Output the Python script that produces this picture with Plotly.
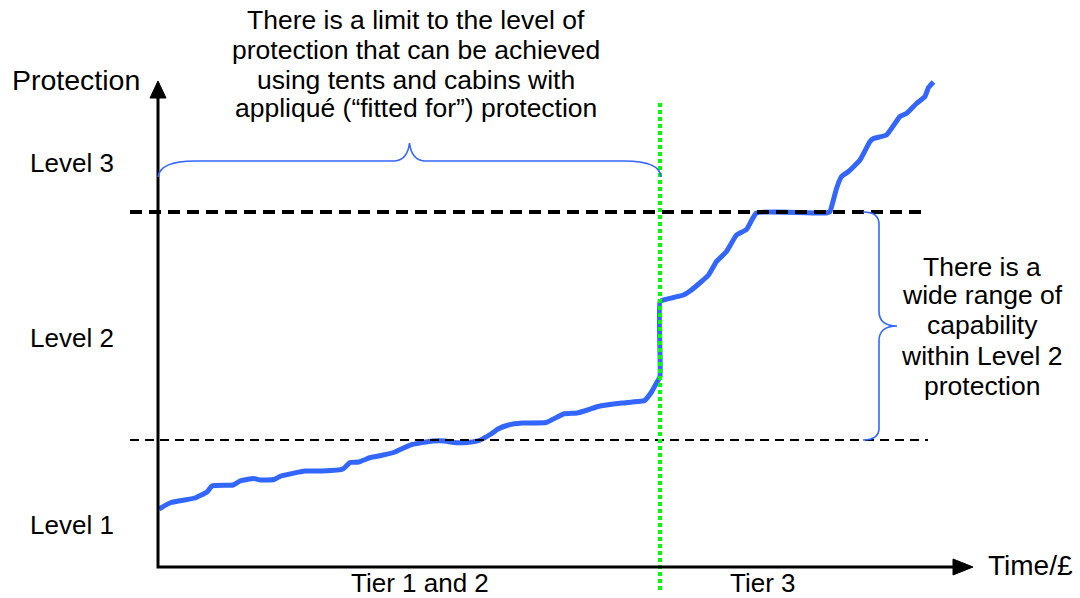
import plotly.graph_objects as go

# ---- data (x: time/cost units, y: protection units) ----
curve_x = [0.4, 2.8, 7.6, 10.0, 11.0, 15.2, 16.6, 19.3, 20.7, 23.4, 24.8, 29.6, 33.1, 37.2,
           38.6, 40.3, 42.7, 44.8, 47.6, 49.3, 51.0, 55.1, 57.6, 59.3, 62.0, 64.4, 66.8, 68.2,
           70.3, 73.0, 77.8, 81.3, 84.0, 86.1, 88.2, 93.0, 95.1, 97.5, 98.9, 99.9, 100.6,
           100.6, 101.6, 103.3, 105.3, 106.6, 108.9, 110.3, 111.9, 113.9, 115.9, 117.9, 119.9,
           133.9, 134.6, 135.9, 136.9, 138.3, 140.6, 142.6, 143.3, 145.9, 148.6, 149.9, 151.9,
           153.6, 154.3, 155.3]
curve_y = [11.6, 12.9, 13.8, 15.0, 16.2, 16.4, 17.2, 17.7, 17.4, 17.5, 18.2, 19.2, 19.2, 19.6,
           20.9, 21.0, 21.9, 22.3, 23.0, 23.8, 24.5, 25.2, 25.2, 24.9, 24.9, 25.3, 26.6, 27.6,
           28.4, 28.8, 28.9, 30.6, 30.8, 31.4, 32.1, 32.8, 33.0, 33.3, 35.0, 36.8, 38.1,
           53.1, 53.5, 53.9, 54.4, 55.2, 57.1, 58.4, 61.1, 63.1, 66.4, 67.5, 70.8,
           70.8, 71.1, 75.7, 78.1, 79.1, 81.4, 85.1, 85.7, 86.4, 90.1, 90.7, 92.7,
           94.1, 95.9, 97.0]

level_lower = 25.4      # boundary Level 1 / Level 2
level_upper = 71.0      # boundary Level 2 / Level 3
tier_boundary = 100.6   # Tier 1 and 2 / Tier 3
level_line_x = [-5.4, 154.2]
tier_line_y = [-4.6, 93.0]

level_labels = ["Level 1", "Level 2", "Level 3"]
level_label_y = [8.4, 45.8, 80.8]
tier_labels = ["Tier 1 and 2", "Tier 3"]
tier_label_x = [52.6, 121.2]

top_note = ["There is a limit to the level of",
            "protection that can be achieved",
            "using tents and cabins with",
            "appliqué (“fitted for”) protection"]
top_note_y = [109.4, 103.4, 97.4, 91.8]
right_note = ["There is a", "wide range of", "capability", "within Level 2", "protection"]
right_note_y = [60.0, 54.4, 48.4, 42.2, 36.2]

# axes geometry (data units)
axis_x0 = 0.2
x_axis_end, x_arrow_tip = 159.2, 163.2
y_axis_end, y_arrow_tip = 93.8, 97.2
arrow_half_x, arrow_half_y = 1.6, 1.6

BLUE = "#3366FF"
FONT = "Liberation Sans, Arial, sans-serif"

fig = go.Figure()

# protection curve
fig.add_trace(go.Scatter(x=curve_x, y=curve_y, mode="lines",
                         line=dict(color=BLUE, width=5, shape="spline", smoothing=0.4),
                         hoverinfo="skip"))
# level boundaries
fig.add_trace(go.Scatter(x=level_line_x, y=[level_lower] * 2, mode="lines",
                         line=dict(color="black", width=2.2, dash="9px,6px"), hoverinfo="skip"))
fig.add_trace(go.Scatter(x=level_line_x, y=[level_upper] * 2, mode="lines",
                         line=dict(color="black", width=4, dash="12px,7px"), hoverinfo="skip"))
# tier boundary
fig.add_trace(go.Scatter(x=[tier_boundary] * 2, y=tier_line_y, mode="lines",
                         line=dict(color="#00FF00", width=4, dash="4px,3px"), hoverinfo="skip"))
# axes lines
fig.add_trace(go.Scatter(x=[axis_x0, axis_x0, x_axis_end], y=[y_axis_end, 0, 0], mode="lines",
                         line=dict(color="black", width=3), hoverinfo="skip"))
# arrow heads
fig.add_trace(go.Scatter(x=[axis_x0 - arrow_half_x, axis_x0, axis_x0 + arrow_half_x, axis_x0 - arrow_half_x],
                         y=[y_axis_end, y_arrow_tip, y_axis_end, y_axis_end],
                         mode="lines", fill="toself", fillcolor="black",
                         line=dict(color="black", width=1), hoverinfo="skip"))
fig.add_trace(go.Scatter(x=[x_axis_end, x_arrow_tip, x_axis_end, x_axis_end],
                         y=[arrow_half_y, 0, -arrow_half_y, arrow_half_y],
                         mode="lines", fill="toself", fillcolor="black",
                         line=dict(color="black", width=1), hoverinfo="skip"))


def brace_h(x0, x1, ybase, yflat, ytip):
    xm = (x0 + x1) / 2
    return (f"M {x0},{ybase} Q {x0 + 0.4},{yflat} {x0 + 7.4},{yflat} "
            f"L {xm - 3},{yflat} Q {xm - 0.4},{yflat + 0.2} {xm},{ytip} "
            f"Q {xm + 0.4},{yflat + 0.2} {xm + 3},{yflat} "
            f"L {x1 - 7.4},{yflat} Q {x1 - 0.2},{yflat} {x1},{ybase}")


def brace_v(y0, y1, xbase, xflat, xtip):
    ym = (y0 + y1) / 2
    return (f"M {xbase},{y1} Q {xflat},{y1} {xflat},{y1 - 2.4} "
            f"L {xflat},{ym + 3} Q {xflat},{ym} {xtip},{ym} "
            f"Q {xflat},{ym} {xflat},{ym - 3} "
            f"L {xflat},{y0 + 2.4} Q {xflat},{y0} {xbase},{y0}")


fig.add_shape(type="path", path=brace_h(0.2, 100.8, 78.0, 81.2, 84.8),
              line=dict(color=BLUE, width=1.6), xref="x", yref="y")
fig.add_shape(type="path", path=brace_v(level_lower, level_upper, 141.2, 144.4, 148.0),
              line=dict(color=BLUE, width=1.6), xref="x", yref="y")

ann = []
ann.append(dict(x=-29.4, y=97.4, text="Protection", xanchor="left", font=dict(size=28.5)))
ann.append(dict(x=165.8, y=0.4, text="Time/£", xanchor="left", font=dict(size=28)))
for t, yy in zip(level_labels, level_label_y):
    ann.append(dict(x=-17.0, y=yy, text=t, font=dict(size=26)))
for t, xx in zip(tier_labels, tier_label_x):
    ann.append(dict(x=xx, y=-3.2, text=t, font=dict(size=26)))
for t, yy in zip(top_note, top_note_y):
    ann.append(dict(x=51.8, y=yy, text=t, font=dict(size=26.5)))
for t, yy in zip(right_note, right_note_y):
    ann.append(dict(x=165.0, y=yy, text=t, font=dict(size=26.5)))
for a in ann:
    a.update(xref="x", yref="y", showarrow=False, yanchor="middle")
    a.setdefault("xanchor", "center")
    a["font"].update(family=FONT, color="black")
fig.update_layout(annotations=ann)

fig.update_layout(
    width=1080, height=598,
    margin=dict(l=0, r=0, t=0, b=0),
    paper_bgcolor="white", plot_bgcolor="white",
    showlegend=False,
    hovermode=False,
    xaxis=dict(range=[-31.4, 184.6], visible=False, fixedrange=True),
    yaxis=dict(range=[-6.2, 113.4], visible=False, fixedrange=True),
)

# remove the default 8px page margin so the figure fills the window exactly
fig.write_html("out.html",
               config={"displayModeBar": False, "staticPlot": True},
               post_script="document.body.style.margin='0';document.body.style.overflow='hidden';")
